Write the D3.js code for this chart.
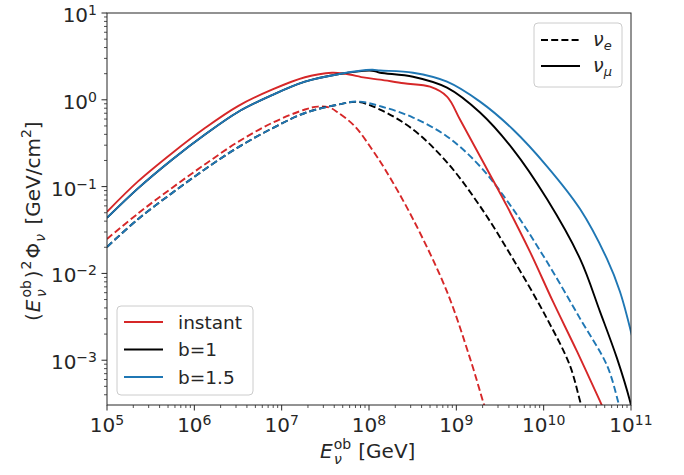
<!DOCTYPE html>
<html><head><meta charset="utf-8">
<script src="https://cdn.jsdelivr.net/npm/d3@7"></script>
<style>
body{margin:0;background:#fff;}
text{font-family:"DejaVu Sans",sans-serif;fill:#262626;}
</style></head>
<body><svg id="c" width="684" height="475"></svg>
<script>
// [log10(E / GeV), log10(E^2 Phi / (GeV/cm^2))]
const instantMu = [[5.0,-1.29],[5.355,-0.94],[5.744,-0.615],[6.122,-0.325],[6.5,-0.072],[6.889,0.117],[7.267,0.26],[7.576,0.312],[7.725,0.30],[7.954,0.255],[8.126,0.232],[8.40,0.19],[8.699,0.151],[8.893,0.037],[9.042,-0.227],[9.271,-0.651],[9.58,-1.225],[9.844,-1.752],[10.107,-2.326],[10.382,-2.899],[10.645,-3.472],[10.68,-3.55]];
const instantE = [[5.0,-1.603],[5.355,-1.31],[5.744,-1.015],[6.122,-0.743],[6.5,-0.485],[6.889,-0.267],[7.267,-0.112],[7.416,-0.078],[7.55,-0.09],[7.645,-0.147],[7.84,-0.307],[8.034,-0.571],[8.183,-0.80],[8.504,-1.374],[8.893,-2.211],[9.157,-2.979],[9.305,-3.472],[9.33,-3.55]];
const b1Mu = [[5.0,-1.36],[5.355,-1.02],[5.744,-0.69],[6.122,-0.40],[6.5,-0.14],[6.889,0.054],[7.267,0.209],[7.645,0.295],[8.034,0.335],[8.126,0.312],[8.504,0.266],[8.893,0.14],[9.271,-0.147],[9.649,-0.571],[10.038,-1.144],[10.417,-1.833],[10.645,-2.44],[10.84,-2.979],[10.989,-3.472],[11.0,-3.52]];
const b1E = [[5.0,-1.695],[5.355,-1.375],[5.744,-1.075],[6.122,-0.80],[6.5,-0.548],[6.889,-0.33],[7.267,-0.152],[7.645,-0.055],[7.874,-0.025],[8.126,-0.112],[8.504,-0.342],[8.893,-0.72],[9.271,-1.225],[9.649,-1.833],[10.038,-2.521],[10.30,-3.06],[10.417,-3.472],[10.44,-3.55]];
const b15Mu = [[5.0,-1.36],[5.355,-1.02],[5.744,-0.69],[6.122,-0.40],[6.5,-0.14],[6.889,0.054],[7.267,0.209],[7.645,0.295],[8.034,0.346],[8.126,0.338],[8.504,0.312],[8.893,0.209],[9.271,-0.021],[9.649,-0.342],[10.038,-0.766],[10.417,-1.259],[10.725,-1.833],[10.874,-2.211],[11.01,-2.716]];
const b15E = [[5.0,-1.695],[5.355,-1.375],[5.744,-1.075],[6.122,-0.80],[6.5,-0.548],[6.889,-0.33],[7.267,-0.152],[7.645,-0.055],[7.874,-0.02],[8.15,-0.08],[8.504,-0.204],[8.893,-0.422],[9.271,-0.766],[9.649,-1.259],[10.038,-1.867],[10.417,-2.521],[10.725,-3.06],[10.851,-3.472],[10.87,-3.55]];

const xTicks = [5,6,7,8,9,10,11];
const yTicks = [-3,-2,-1,0,1];
const seriesNames = ["instant","b=1","b=1.5"];
const seriesColors = ["#d62728","#000000","#1f77b4"];
const flavours = [["e",true],["\u03bc",false]];

const svg = d3.select("#c");
const L=107,R=631,T=13,B=405;
const x = d3.scaleLog().domain([1e5,1e11]).range([L,R]);
const y = d3.scaleLog().domain([Math.pow(10,-3.516),10]).range([B,T]);

svg.append("defs").append("clipPath").attr("id","clip").append("rect").attr("x",L).attr("y",T).attr("width",R-L).attr("height",B-T);

const line = d3.line().x(d=>x(Math.pow(10,d[0]))).y(d=>y(Math.pow(10,d[1]))).curve(d3.curveCatmullRom.alpha(0.5));
const curves = [
  {d:instantE,c:0,dash:true},{d:b1E,c:1,dash:true},{d:b15E,c:2,dash:true},
  {d:instantMu,c:0,dash:false},{d:b1Mu,c:1,dash:false},{d:b15Mu,c:2,dash:false}
];
const g = svg.append("g").attr("clip-path","url(#clip)");
curves.forEach(cv=>{
  g.append("path").attr("d",line(cv.d)).attr("fill","none")
   .attr("stroke",seriesColors[cv.c]).attr("stroke-width",1.9)
   .attr("stroke-dasharray",cv.dash?"7,3.2":null);
});

function sup(sel, base, exp){
  sel.text("");
  sel.append("tspan").text(base);
  sel.append("tspan").attr("dy",-7).attr("font-size","14px").text(exp);
}
const xminor=[], yminor=[];
for(let e=5;e<11;e++) for(let k=2;k<10;k++) xminor.push(k*Math.pow(10,e));
for(let e=-4;e<1;e++) for(let k=2;k<10;k++){const v=k*Math.pow(10,e); if(v>=y.domain()[0]) yminor.push(v);}

const ax = svg.append("g").attr("transform",`translate(0,${B})`);
ax.selectAll(".mn").data(xminor).enter().append("line").attr("x1",d=>x(d)).attr("x2",d=>x(d)).attr("y1",0).attr("y2",3).attr("stroke","#262626").attr("stroke-width",0.8);
ax.selectAll(".mj").data(xTicks).enter().append("line").attr("x1",d=>x(Math.pow(10,d))).attr("x2",d=>x(Math.pow(10,d))).attr("y1",0).attr("y2",5.5).attr("stroke","#262626").attr("stroke-width",1);
ax.selectAll(".lb").data(xTicks).enter().append("text").attr("x",d=>x(Math.pow(10,d))).attr("y",27).attr("text-anchor","middle").attr("font-size","20px")
  .each(function(d){sup(d3.select(this),"10",String(d));});

const ay = svg.append("g").attr("transform",`translate(${L},0)`);
ay.selectAll(".mn").data(yminor).enter().append("line").attr("y1",d=>y(d)).attr("y2",d=>y(d)).attr("x1",0).attr("x2",-3).attr("stroke","#262626").attr("stroke-width",0.8);
ay.selectAll(".mj").data(yTicks).enter().append("line").attr("y1",d=>y(Math.pow(10,d))).attr("y2",d=>y(Math.pow(10,d))).attr("x1",0).attr("x2",-5.5).attr("stroke","#262626").attr("stroke-width",1);
ay.selectAll(".lb").data(yTicks).enter().append("text").attr("x",-10).attr("y",d=>y(Math.pow(10,d))+9).attr("text-anchor","end").attr("font-size","20px")
  .each(function(d){sup(d3.select(this),"10",d<0?"\u2212"+(-d):String(d));});

svg.append("rect").attr("x",L).attr("y",T).attr("width",R-L).attr("height",B-T).attr("fill","none").attr("stroke","#262626").attr("stroke-width",1);

// axis labels
const xl = svg.append("text").attr("x",320).attr("y",458).attr("font-size","20px");
xl.append("tspan").attr("font-style","italic").text("E");
xl.append("tspan").attr("font-size","14px").attr("dx",1).attr("dy",-9).text("ob");
xl.append("tspan").attr("font-size","14px").attr("font-style","italic").attr("dx",-17).attr("dy",15).text("\u03bd");
xl.append("tspan").attr("dy",-6).attr("dx",10).text(" [GeV]");

const yl = svg.append("text").attr("transform","translate(40,321) rotate(-90)").attr("text-anchor","start").attr("font-size","20px");
yl.append("tspan").text("(");
yl.append("tspan").attr("font-style","italic").attr("dx",1).text("E");
yl.append("tspan").attr("font-size","14px").attr("dx",2).attr("dy",-9).text("ob");
yl.append("tspan").attr("font-size","14px").attr("font-style","italic").attr("dx",-17).attr("dy",15).text("\u03bd");
yl.append("tspan").attr("dy",-6).attr("dx",11).text(")");
yl.append("tspan").attr("font-size","14px").attr("dx",1).attr("dy",-9).text("2");
yl.append("tspan").attr("dy",9).attr("dx",2).text("\u03a6");
yl.append("tspan").attr("font-size","14px").attr("font-style","italic").attr("dx",1).attr("dy",5).text("\u03bd");
yl.append("tspan").attr("dy",-5).attr("dx",3).text(" [GeV/cm");
yl.append("tspan").attr("font-size","14px").attr("dy",-9).text("2");
yl.append("tspan").attr("dy",9).text("]");

// legend: series
const lg = svg.append("g");
lg.append("rect").attr("x",117).attr("y",306).attr("width",136).attr("height",89).attr("rx",4).attr("fill","#fff").attr("fill-opacity",0.8).attr("stroke","#cccccc");
seriesNames.forEach((n,i)=>{
  const yy = 322+i*27.5;
  lg.append("line").attr("x1",124).attr("x2",163).attr("y1",yy).attr("y2",yy).attr("stroke",seriesColors[i]).attr("stroke-width",1.9);
  lg.append("text").attr("x",178).attr("y",yy+6.5).attr("font-size","18.5px").text(n);
});
// legend: flavours
const lf = svg.append("g");
lf.append("rect").attr("x",534).attr("y",23).attr("width",88).attr("height",64).attr("rx",4).attr("fill","#fff").attr("fill-opacity",0.8).attr("stroke","#cccccc");
flavours.forEach((f,i)=>{
  const yy=40+i*26;
  lf.append("line").attr("x1",541).attr("x2",580).attr("y1",yy).attr("y2",yy).attr("stroke","#000").attr("stroke-width",1.9).attr("stroke-dasharray",f[1]?"7,3.2":null);
  const t=lf.append("text").attr("x",593).attr("y",yy+6).attr("font-size","19px").attr("font-style","italic");
  t.append("tspan").text("\u03bd");
  t.append("tspan").attr("font-size","13px").attr("dy",4).text(f[0]);
});
</script></body></html>
